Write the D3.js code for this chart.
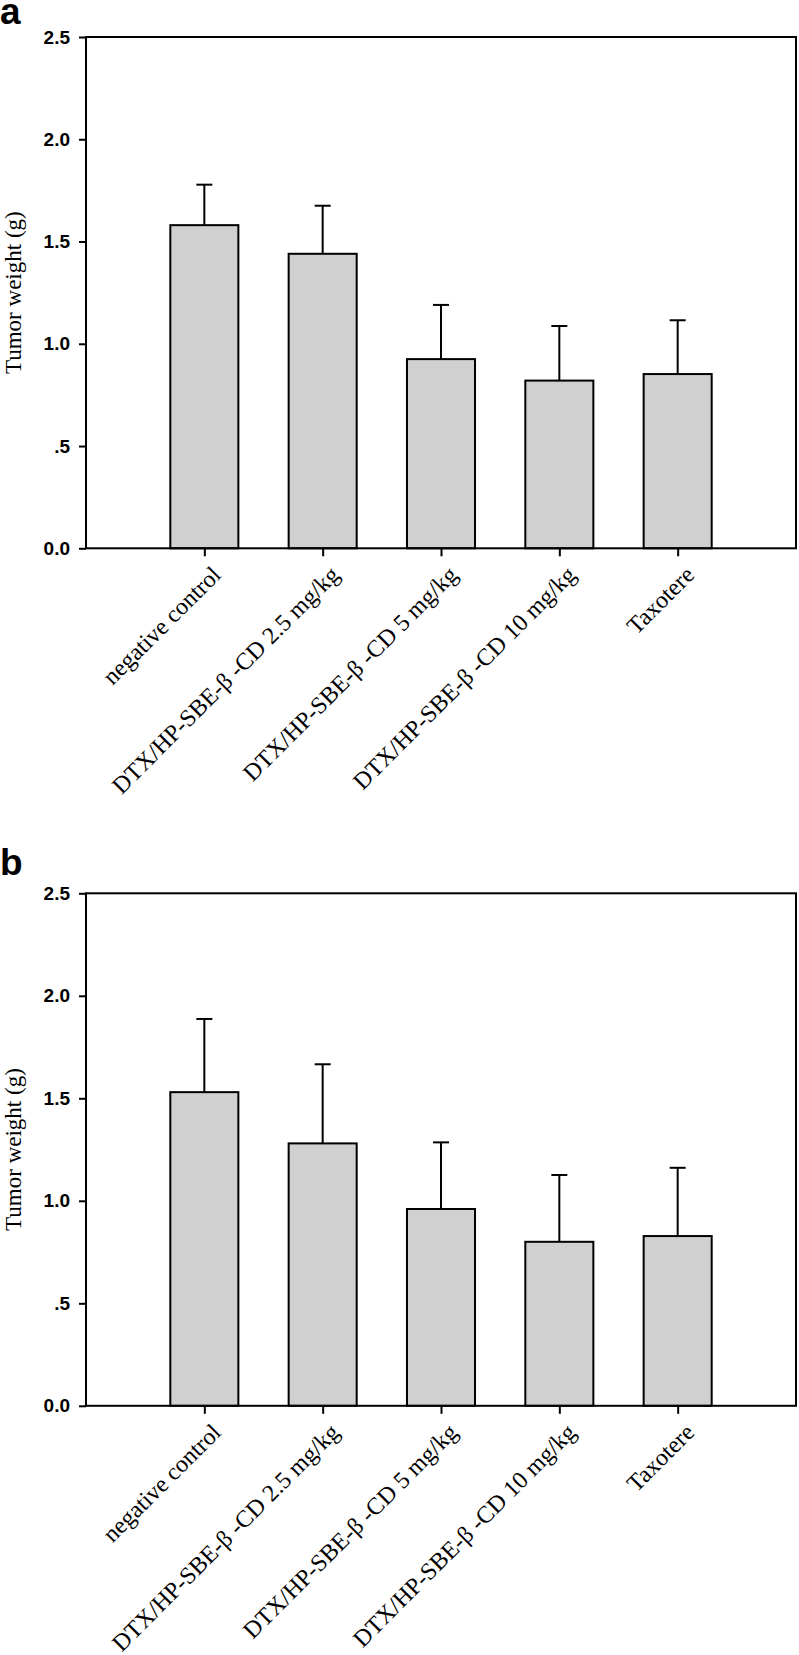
<!DOCTYPE html>
<html>
<head>
<meta charset="utf-8">
<script src="https://cdn.jsdelivr.net/npm/d3@7"></script>
<style>
  html, body { margin: 0; padding: 0; background: #fff; }
  svg { display: block; }
</style>
</head>
<body>
<svg id="chart" width="799" height="1655"></svg>
<script>
// ---- data ----
const categories = [
  "negative control",
  "DTX/HP-SBE-β -CD 2.5 mg/kg",
  "DTX/HP-SBE-β -CD 5 mg/kg",
  "DTX/HP-SBE-β -CD 10 mg/kg",
  "Taxotere"
];
const panelLabels = ["a", "b"];
const meansA = [1.58, 1.44, 0.925, 0.82, 0.852];
const errorsA = [0.198, 0.235, 0.265, 0.267, 0.263];
const meansB = [1.53, 1.28, 0.96, 0.80, 0.828];
const errorsB = [0.357, 0.386, 0.325, 0.326, 0.333];
const yTicks = [0, 0.5, 1.0, 1.5, 2.0, 2.5];
const yTickLabels = ["0.0", ".5", "1.0", "1.5", "2.0", "2.5"];
const yTitle = "Tumor weight (g)";

const svg = d3.select("#chart");

const panels = [
  { label: panelLabels[0], means: meansA, errs: errorsA, top: 37, bottom: 548.3, labelY: 24 },
  { label: panelLabels[1], means: meansB, errs: errorsB, top: 893.3, bottom: 1405.8, labelY: 875 }
];

const left = 86, right = 796;
const serif = "'Liberation Serif', 'Times New Roman', Times, serif";
const sans = "'Liberation Sans', Arial, Helvetica, sans-serif";

panels.forEach(p => {
  const g = svg.append("g");
  const x = d3.scalePoint().domain(categories).range([left, right]).padding(1);
  const y = d3.scaleLinear().domain([0, 2.5]).range([p.bottom, p.top]);
  const bw = x.step() * 0.575;

  // panel letter
  g.append("text")
    .attr("x", 0).attr("y", p.labelY)
    .attr("font-family", sans)
    .attr("font-weight", "bold")
    .attr("font-size", 37)
    .text(p.label);

  // bars
  g.selectAll("rect.bar").data(p.means).enter().append("rect")
    .attr("class", "bar")
    .attr("x", (d, i) => x(categories[i]) - bw / 2)
    .attr("width", bw)
    .attr("y", d => y(d))
    .attr("height", d => y(0) - y(d))
    .attr("fill", "#d0d0d0")
    .attr("stroke", "#000")
    .attr("stroke-width", 2);

  // error bars (upper only)
  const cap = 8;
  g.selectAll("line.err").data(p.means).enter().append("line")
    .attr("x1", (d, i) => x(categories[i]))
    .attr("x2", (d, i) => x(categories[i]))
    .attr("y1", d => y(d))
    .attr("y2", (d, i) => y(d + p.errs[i]))
    .attr("stroke", "#000").attr("stroke-width", 2);
  g.selectAll("line.cap").data(p.means).enter().append("line")
    .attr("x1", (d, i) => x(categories[i]) - cap)
    .attr("x2", (d, i) => x(categories[i]) + cap)
    .attr("y1", (d, i) => y(d + p.errs[i]))
    .attr("y2", (d, i) => y(d + p.errs[i]))
    .attr("stroke", "#000").attr("stroke-width", 2);

  // frame
  g.append("rect")
    .attr("x", left).attr("y", p.top)
    .attr("width", right - left).attr("height", p.bottom - p.top)
    .attr("fill", "none").attr("stroke", "#000").attr("stroke-width", 2);

  // y axis
  const ya = g.append("g")
    .attr("transform", `translate(${left},0)`)
    .call(d3.axisLeft(y).tickValues(yTicks)
      .tickFormat((d, i) => yTickLabels[i])
      .tickSize(7).tickPadding(9));
  ya.select(".domain").remove();
  ya.selectAll("line").attr("stroke", "#000").attr("stroke-width", 2);
  ya.selectAll("text")
    .attr("font-family", sans)
    .attr("font-weight", "bold")
    .attr("font-size", 19)
    .attr("fill", "#000");

  // x axis
  const xa = g.append("g")
    .attr("transform", `translate(0,${p.bottom})`)
    .call(d3.axisBottom(x).tickSize(8).tickFormat(""));
  xa.select(".domain").remove();
  xa.selectAll("line").attr("stroke", "#000").attr("stroke-width", 2);

  // rotated category labels
  g.selectAll("text.cat").data(categories).enter().append("text")
    .attr("class", "cat")
    .attr("transform", d => `translate(${x(d) + 18},${p.bottom + 28}) rotate(-45)`)
    .attr("text-anchor", "end")
    .attr("font-family", serif)
    .attr("font-size", 24)
    .text(d => d);

  // y title
  g.append("text")
    .attr("transform", `translate(20.5,${(p.top + p.bottom) / 2}) rotate(-90)`)
    .attr("text-anchor", "middle")
    .attr("font-family", serif)
    .attr("font-size", 23)
    .text(yTitle);
});
</script>
</body>
</html>
